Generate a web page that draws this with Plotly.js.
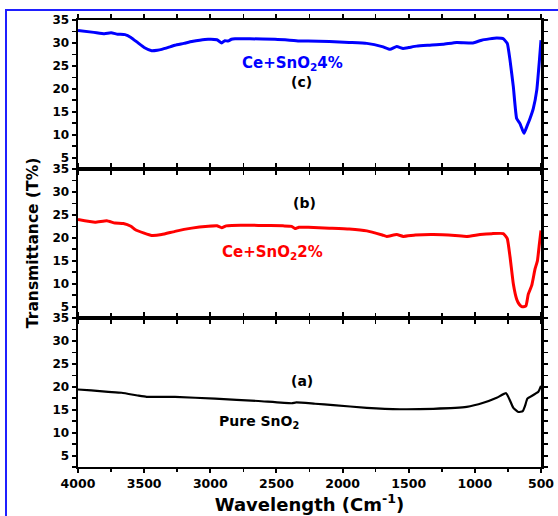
<!DOCTYPE html>
<html>
<head>
<meta charset="utf-8">
<script src="https://cdn.plot.ly/plotly-3.0.1.min.js"></script>
<style>
html,body{margin:0;padding:0;background:#fff;}
#wrap{position:relative;width:558px;height:516px;overflow:hidden;}
#chart{width:558px;height:516px;}
#frame{position:absolute;left:5px;top:9px;width:600px;height:600px;border-left:2px solid #1f1fff;border-top:2px solid #1f1fff;pointer-events:none;}
</style>
</head>
<body>
<div id="wrap"><div id="chart"></div><div id="frame"></div></div>
<script>
// Sample (c): Ce+SnO2 4%
const wavenumberC = [4000,3880,3800,3750,3700,3645,3600,3546,3500,3443,3400,3367,3300,3267,3200,3140,3080,3017,2950,2914,2890,2866,2840,2813,2700,2511,2400,2322,2261,2100,1950,1817,1700,1641,1591,1543,1500,1440,1340,1240,1137,1014,948,835,800,785,755,734,709,684,659,640,628,608,583,558,532,512,500];
const transC = [32.7,32.3,32.0,32.2,31.9,31.8,31.2,30.0,29.0,28.3,28.4,28.6,29.2,29.5,29.9,30.3,30.6,30.8,30.7,30.0,30.5,30.4,30.8,30.9,30.9,30.8,30.6,30.4,30.4,30.3,30.1,29.9,29.2,28.6,29.2,28.8,29.0,29.3,29.5,29.7,30.1,30.0,30.6,31.1,31.0,30.9,29.9,26.2,20.4,13.5,12.4,11.0,10.3,11.7,13.5,15.7,19.7,26.2,30.6];

// Sample (b): Ce+SnO2 2%
const wavenumberB = [4000,3871,3783,3720,3657,3600,3569,3500,3443,3367,3267,3140,3015,2950,2914,2880,2838,2637,2450,2385,2360,2330,2259,2100,1950,1817,1700,1666,1591,1541,1450,1314,1150,1062,961,870,785,755,734,709,684,665,646,625,613,596,570,545,527,512,500];
const transB = [24.0,23.4,23.7,23.2,23.1,22.5,21.8,21.0,20.5,20.7,21.4,22.1,22.5,22.6,22.2,22.6,22.7,22.7,22.6,22.5,22.0,22.3,22.3,22.1,21.9,21.5,20.6,20.3,20.7,20.3,20.6,20.7,20.5,20.3,20.7,20.9,20.9,19.8,15.8,9.9,6.6,5.5,5.0,5.0,5.2,7.7,9.6,13.2,15.0,18.7,21.6];

// Sample (a): Pure SnO2
const wavenumberA = [4000,3900,3771,3670,3550,3481,3267,2964,2637,2385,2350,2208,2070,1817,1566,1314,1062,936,835,764,739,709,671,638,621,603,558,520,500];
const transA = [19.4,19.2,18.9,18.7,18.1,17.8,17.8,17.4,16.9,16.4,16.6,16.3,16.0,15.4,15.1,15.2,15.6,16.5,17.6,18.6,17.3,15.4,14.5,14.7,15.8,17.4,18.2,18.9,20.2];

const xTickVals = [4000,3500,3000,2500,2000,1500,1000,500];
const yTickVals = [5,10,15,20,25,30,35];

const labelC = 'Ce+SnO<sub>2</sub>4%';
const labelB = 'Ce+SnO<sub>2</sub>2%';
const labelA = 'Pure SnO<sub>2</sub>';

const FONT = 'DejaVu Sans, Verdana, sans-serif';

const traces = [
  {x: wavenumberA, y: transA, xaxis:'x', yaxis:'y', mode:'lines', line:{color:'#000000', width:2.2, shape:'spline', smoothing:0.4}},
  {x: wavenumberB, y: transB, xaxis:'x', yaxis:'y2', mode:'lines', line:{color:'#ff0000', width:3, shape:'spline', smoothing:0.4}},
  {x: wavenumberC, y: transC, xaxis:'x', yaxis:'y3', mode:'lines', line:{color:'#0000ff', width:3, shape:'spline', smoothing:0.4}}
];

function yAxis(domain){
  return {
    domain: domain, range:[2.5,35], anchor:'x',
    tickmode:'array', tickvals: yTickVals, ticktext: yTickVals.map(String),
    ticks:'outside', ticklen:4, tickwidth:2, tickcolor:'#000',
    minor:{dtick:2.5, tick0:0, ticks:'outside', ticklen:4, tickwidth:1.5, tickcolor:'#000'},
    showline:true, linewidth:2.5, linecolor:'#000', mirror:'ticks',
    showgrid:false, zeroline:false,
    tickfont:{family:FONT, size:12, color:'#000', weight:'bold'}
  };
}

const layout = {
  width:558, height:516,
  margin:{l:78, r:17, t:20, b:49},
  paper_bgcolor:'#ffffff', plot_bgcolor:'#ffffff',
  showlegend:false,
  xaxis:{
    range:[4000,500], anchor:'y',
    tickmode:'array', tickvals: xTickVals, ticktext: xTickVals.map(String),
    ticks:'outside', ticklen:4, tickwidth:2, tickcolor:'#000',
    minor:{dtick:250, tick0:0, ticks:'outside', ticklen:3, tickwidth:1.5, tickcolor:'#000'},
    showline:true, linewidth:2, linecolor:'#000', mirror:'allticks',
    showgrid:false, zeroline:false,
    tickfont:{family:FONT, size:12.5, color:'#000', weight:'bold'},
    title:{text:'Wavelength (Cm<sup>-1</sup>)', font:{family:FONT, size:18, color:'#000', weight:'bold'}, standoff:6}
  },
  yaxis: yAxis([0, 1/3]),
  yaxis2: yAxis([1/3, 2/3]),
  yaxis3: yAxis([2/3, 1]),
  annotations:[
    {text:'Transmittance (T%)', xref:'paper', yref:'paper', x:-0.098, y:0.5, textangle:-90, showarrow:false,
     xanchor:'center', yanchor:'middle', font:{family:FONT, size:15.5, color:'#000', weight:'bold'}},
    {text:labelC, xref:'x', yref:'y3', x:2375, y:25.6, showarrow:false, xanchor:'center', yanchor:'middle',
     font:{family:FONT, size:15, color:'#0000ff', weight:'bold'}},
    {text:'(c)', xref:'x', yref:'y3', x:2314, y:21.4, showarrow:false, xanchor:'center', yanchor:'middle',
     font:{family:FONT, size:14, color:'#000', weight:'bold'}},
    {text:'(b)', xref:'x', yref:'y2', x:2291, y:27.5, showarrow:false, xanchor:'center', yanchor:'middle',
     font:{family:FONT, size:14, color:'#000', weight:'bold'}},
    {text:labelB, xref:'x', yref:'y2', x:2533, y:16.7, showarrow:false, xanchor:'center', yanchor:'middle',
     font:{family:FONT, size:15, color:'#ff0000', weight:'bold'}},
    {text:'(a)', xref:'x', yref:'y', x:2307, y:21.3, showarrow:false, xanchor:'center', yanchor:'middle',
     font:{family:FONT, size:14, color:'#000', weight:'bold'}},
    {text:labelA, xref:'x', yref:'y', x:2632, y:12.4, showarrow:false, xanchor:'center', yanchor:'middle',
     font:{family:FONT, size:14, color:'#000', weight:'bold'}}
  ]
};

Plotly.newPlot('chart', traces, layout, {displayModeBar:false, staticPlot:true});
</script>
</body>
</html>
